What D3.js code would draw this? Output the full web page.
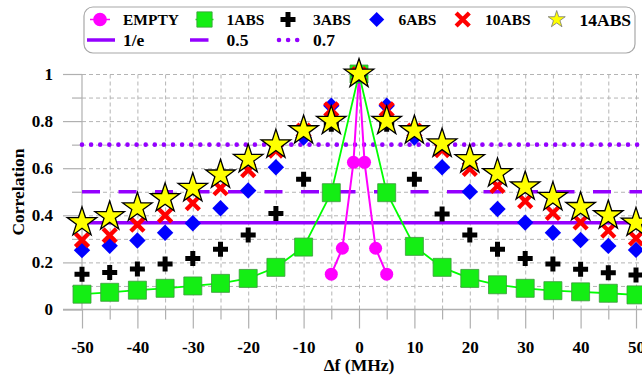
<!DOCTYPE html>
<html><head><meta charset="utf-8">
<script src="https://cdn.jsdelivr.net/npm/d3@7/dist/d3.min.js"></script>
<style>
body{margin:0;background:#fff}
svg{display:block}
text{font-family:"Liberation Serif","Times New Roman",serif;font-weight:bold;fill:#000}
</style>
</head><body>
<svg id="c" width="642" height="376"></svg>
<script>
// ---- data ----
const freqs = [-50,-45,-40,-35,-30,-25,-20,-15,-10,-5,0,5,10,15,20,25,30,35,40,45,50];
const emptyFreqs = [-5,-3,-1,0,1,3,5];
const emptyVals = [0.15,0.26,0.625,1.0,0.625,0.26,0.15];
const abs1Vals  = [0.065,0.073,0.082,0.09,0.1,0.111,0.132,0.179,0.265,0.496,1.0,0.496,0.268,0.179,0.132,0.105,0.09,0.08,0.075,0.069,0.062];
const abs3Vals  = [0.15,0.157,0.172,0.193,0.217,0.256,0.316,0.408,0.553,0.787,1.0,0.787,0.553,0.405,0.316,0.256,0.217,0.193,0.171,0.156,0.147];
const abs6Vals  = [0.252,0.271,0.293,0.326,0.366,0.43,0.505,0.604,0.73,0.865,1.0,0.865,0.73,0.604,0.5,0.427,0.369,0.326,0.295,0.27,0.253];
const abs10Vals = [0.295,0.315,0.36,0.40,0.452,0.515,0.592,0.675,0.76,0.85,1.0,0.85,0.76,0.677,0.597,0.525,0.46,0.41,0.37,0.335,0.302];
const abs14Vals = [0.37,0.395,0.432,0.472,0.515,0.572,0.638,0.70,0.76,0.80,1.0,0.80,0.76,0.704,0.637,0.578,0.522,0.477,0.434,0.399,0.368];
const refNames = ["1/e","0.5","0.7"];
const refValues = [0.368,0.5,0.7];
const seriesNames = ["EMPTY","1ABS","3ABS","6ABS","10ABS","14ABS"];
const xTickVals = [-50,-40,-30,-20,-10,0,10,20,30,40,50];
const xMinorVals = [-45,-35,-25,-15,-5,5,15,25,35,45];
const yTickVals = [0,0.2,0.4,0.6,0.8,1];
const yMinorVals = [0.1,0.3,0.5,0.7,0.9];

// ---- scales ----
const W = 642, H = 376;
const x = d3.scaleLinear().domain([-50,50]).range([82,636]);
const y = d3.scaleLinear().domain([0,1]).range([309.5,74]);
const svg = d3.select("#c");

const gridColor = "#b4b4b4";
const tickColor = "#b0b0b0";
const purple = "#9400ff";

// ---- grid ----
const gridX = [...xMinorVals, ...xTickVals.filter(d => d !== -50)];
const gx = svg.append("g").attr("transform",`translate(0,${y(0)})`)
  .call(d3.axisBottom(x).tickValues(gridX).tickSize(-(y(0)-y(1))).tickFormat(""));
gx.select(".domain").remove();
gx.selectAll("line").attr("stroke",gridColor).attr("stroke-dasharray","4,3");

const gridY = [...yMinorVals, ...yTickVals.filter(d => d !== 0)];
const gy = svg.append("g").attr("transform",`translate(${x(-50)},0)`)
  .call(d3.axisLeft(y).tickValues(gridY).tickSize(-(W - x(-50))).tickFormat(""));
gy.select(".domain").remove();
gy.selectAll("line").attr("stroke",gridColor).attr("stroke-dasharray","4,3");

// ---- axes ----
const xAxis = svg.append("g").attr("transform",`translate(0,${y(0)})`)
  .call(d3.axisBottom(x).tickValues(xTickVals).tickSize(19).tickPadding(12).tickFormat(d => String(d)));
xAxis.attr("font-family",null);
xAxis.select(".domain").remove();
xAxis.selectAll("line").attr("stroke",tickColor).attr("stroke-width",1.2);
xAxis.selectAll("text").attr("font-size",17).attr("fill","#000");
const xMinor = svg.append("g").attr("transform",`translate(0,${y(0)})`)
  .call(d3.axisBottom(x).tickValues(xMinorVals).tickSize(10).tickFormat(""));
xMinor.select(".domain").remove();
xMinor.selectAll("line").attr("stroke",tickColor).attr("stroke-width",1.2);

const yAxis = svg.append("g").attr("transform",`translate(${x(-50)},0)`)
  .call(d3.axisLeft(y).tickValues(yTickVals).tickSize(19).tickPadding(10).tickFormat(d => String(+d.toFixed(1))));
yAxis.attr("font-family",null);
yAxis.select(".domain").remove();
yAxis.selectAll("line").attr("stroke",tickColor).attr("stroke-width",1.2);
yAxis.selectAll("text").attr("font-size",17).attr("fill","#000");
const yMinor = svg.append("g").attr("transform",`translate(${x(-50)},0)`)
  .call(d3.axisLeft(y).tickValues(yMinorVals).tickSize(10).tickFormat(""));
yMinor.select(".domain").remove();
yMinor.selectAll("line").attr("stroke",tickColor).attr("stroke-width",1.2);

// axis lines
svg.append("line").attr("x1",x(-50)-19).attr("x2",W).attr("y1",y(0)).attr("y2",y(0))
  .attr("stroke",tickColor).attr("stroke-width",1.5);
svg.append("line").attr("x1",x(-50)).attr("x2",x(-50)).attr("y1",y(1)).attr("y2",y(0))
  .attr("stroke",tickColor).attr("stroke-width",1.2);

// axis titles
svg.append("text").attr("x",x(0)).attr("y",371).attr("text-anchor","middle")
  .attr("font-size",17.5).text("Δf (MHz)");
svg.append("text").attr("transform",`translate(24,${192}) rotate(-90)`).attr("text-anchor","middle")
  .attr("font-size",17.5).text("Correlation");

// ---- reference lines ----
const refStyles = [
  {dash:null, width:3.5, cap:"butt"},
  {dash:"18,18.5", width:3.5, cap:"butt"},
  {dash:"0,9.1", width:4.6, cap:"round"}
];
refValues.forEach((v,i) => {
  const l = svg.append("line").attr("x1",x(-50)).attr("x2",W+20).attr("y1",y(v)).attr("y2",y(v))
    .attr("stroke",purple).attr("stroke-width",refStyles[i].width).attr("stroke-linecap",refStyles[i].cap);
  if (refStyles[i].dash) l.attr("stroke-dasharray",refStyles[i].dash);
});

// ---- marker shapes ----
const diamondPath = r => `M0,${-r}L${r},0L0,${r}L${-r},0Z`;
const xPath = r => `M${-r},${-r}L${r},${r}M${-r},${r}L${r},${-r}`;
const markers = {
  EMPTY: (g,s) => g.append("path").attr("d",d3.symbol(d3.symbolCircle, 133*s*s)()).attr("fill","#ff00ff"),
  "1ABS": (g,s) => g.append("path").attr("d",d3.symbol(d3.symbolSquare, 324*s*s)()).attr("fill","#14ee14").attr("stroke","#3c9a3c").attr("stroke-width",0.8),
  "3ABS": (g,s) => g.append("path").attr("d",d3.symbol(d3.symbolCross, 125*s*s)()).attr("fill","#000"),
  "6ABS": (g,s) => g.append("path").attr("d",diamondPath(8.2*s)).attr("fill","#0000ff"),
  "10ABS": (g,s) => g.append("path").attr("d",xPath(6.6*s)).attr("fill","none").attr("stroke","#ff0000").attr("stroke-width",4.3*Math.max(s,0.85)),
  "14ABS": (g,s) => g.append("path").attr("d",d3.symbol(d3.symbolStar, 270*s*s)()).attr("fill","#ffff00").attr("stroke",s<1?"#777":"#000").attr("stroke-width",s<1?0.8:1.3)
};

// ---- series ----
const line = d3.line().x(d => x(d[0])).y(d => y(d[1]));
const emptyData = emptyFreqs.map((f,i) => [f, emptyVals[i]]);
svg.append("path").attr("d",line(emptyData)).attr("fill","none").attr("stroke","#ff00ff").attr("stroke-width",2);
emptyData.forEach(d => markers.EMPTY(svg.append("g").attr("transform",`translate(${x(d[0])},${y(d[1])})`),1));

const abs1Data = freqs.map((f,i) => [f, abs1Vals[i]]);
svg.append("path").attr("d",line(abs1Data)).attr("fill","none").attr("stroke","#00ff00").attr("stroke-width",1.8);
abs1Data.forEach(d => markers["1ABS"](svg.append("g").attr("transform",`translate(${x(d[0])},${y(d[1])})`),1));

[["3ABS",abs3Vals],["6ABS",abs6Vals],["10ABS",abs10Vals],["14ABS",abs14Vals]].forEach(([name,vals]) => {
  freqs.forEach((f,i) => markers[name](svg.append("g").attr("transform",`translate(${x(f)},${y(vals[i])})`),1));
});

// ---- legend ----
const lg = svg.append("g");
lg.append("rect").attr("x",84).attr("y",7).attr("width",551).attr("height",46).attr("rx",9)
  .attr("fill","#fff").attr("stroke","#a8a8a8").attr("stroke-width",1.2);
const legMarkX = [100,204.5,288,376.7,462.7,556.7];
const legTextX = [123,226.5,313,398.5,485,579.5];
const legFont = [15.5,15.5,15.5,15.5,15.5,17.5];
const legScale = [1.05,0.85,1,0.92,1,0.58];
seriesNames.forEach((n,i) => {
  const g = lg.append("g").attr("transform",`translate(${legMarkX[i]},19.5)`);
  if (n === "EMPTY") g.append("line").attr("x1",-10).attr("x2",10).attr("stroke","#ff00ff").attr("stroke-width",1.5);
  if (n === "1ABS") g.append("line").attr("x1",-9).attr("x2",9).attr("stroke","#00ff00").attr("stroke-width",1.5);
  markers[n](g, legScale[i]);
  lg.append("text").attr("x",legTextX[i]).attr("y",19.5).attr("dy","0.35em").attr("font-size",legFont[i]).text(n);
});
const legLineX = [[87,115],[190,208.5],[279,298]];
const legText2X = [123,226.5,313];
refNames.forEach((n,i) => {
  const l = lg.append("line").attr("x1",legLineX[i][0]).attr("x2",legLineX[i][1]).attr("y1",40).attr("y2",40)
    .attr("stroke",purple).attr("stroke-width",refStyles[i].width).attr("stroke-linecap",refStyles[i].cap);
  if (i === 2) l.attr("stroke-dasharray","0,9.1");
  lg.append("text").attr("x",legText2X[i]).attr("y",40).attr("dy","0.35em").attr("font-size",17.5).text(n);
});
</script>
</body></html>
